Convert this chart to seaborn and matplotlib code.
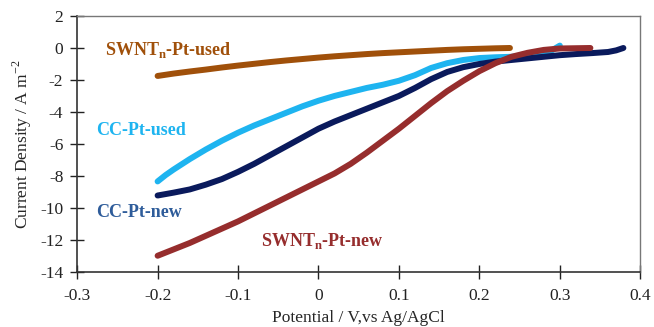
import numpy as np
import pandas as pd
import seaborn as sns
import matplotlib.pyplot as plt

# Polarisation curves
SWNT_USED_V = [-0.20, -0.18, -0.16, -0.14, -0.12, -0.10, -0.08, -0.06, -0.04, -0.02,
               0.00, 0.02, 0.04, 0.06, 0.08, 0.10, 0.12, 0.14, 0.16, 0.18, 0.20, 0.22, 0.238]
SWNT_USED_J = [-1.75, -1.60, -1.47, -1.35, -1.22, -1.10, -0.99, -0.88, -0.78, -0.69,
               -0.60, -0.52, -0.45, -0.38, -0.32, -0.27, -0.22, -0.17, -0.12, -0.08, -0.05, -0.02, 0.00]

CC_USED_V = [-0.20, -0.19, -0.18, -0.16, -0.14, -0.12, -0.10, -0.08, -0.06, -0.04, -0.02,
             0.00, 0.02, 0.04, 0.06, 0.08, 0.10, 0.12, 0.14, 0.16, 0.18, 0.20, 0.22, 0.24,
             0.26, 0.28, 0.29, 0.30]
CC_USED_J = [-8.35, -7.95, -7.60, -6.95, -6.35, -5.80, -5.30, -4.85, -4.45, -4.05, -3.65,
             -3.30, -3.00, -2.75, -2.50, -2.30, -2.05, -1.70, -1.25, -0.95, -0.75, -0.63, -0.58, -0.55,
             -0.45, -0.30, -0.15, 0.15]

CC_NEW_V = [-0.20, -0.18, -0.16, -0.14, -0.12, -0.10, -0.08, -0.06, -0.04, -0.02,
            0.00, 0.02, 0.04, 0.06, 0.08, 0.10, 0.12, 0.14, 0.16, 0.18, 0.20, 0.22, 0.24,
            0.26, 0.28, 0.30, 0.32, 0.34, 0.36, 0.37, 0.379]
CC_NEW_J = [-9.23, -9.05, -8.85, -8.55, -8.20, -7.75, -7.25, -6.70, -6.15, -5.60,
            -5.05, -4.60, -4.20, -3.80, -3.40, -3.00, -2.50, -1.95, -1.50, -1.20, -1.00, -0.85, -0.75,
            -0.65, -0.55, -0.45, -0.38, -0.32, -0.25, -0.15, 0.00]

SWNT_NEW_V = [-0.20, -0.18, -0.16, -0.14, -0.12, -0.10, -0.08, -0.06, -0.04, -0.02,
              0.00, 0.02, 0.04, 0.06, 0.08, 0.10, 0.12, 0.14, 0.16, 0.18, 0.20, 0.22, 0.24,
              0.26, 0.28, 0.30, 0.338]
SWNT_NEW_J = [-13.0, -12.6, -12.2, -11.75, -11.3, -10.85, -10.35, -9.85, -9.35, -8.85,
              -8.35, -7.85, -7.25, -6.55, -5.80, -5.05, -4.25, -3.45, -2.70, -2.05, -1.45, -0.95, -0.55,
              -0.30, -0.12, -0.03, 0.00]

NAMES = ['SWNTn-Pt-used', 'CC-Pt-used', 'CC-Pt-new', 'SWNTn-Pt-new']
COLORS = ['#A0500A', '#1EB4F0', '#0A1A5C', '#962D2D']

df = pd.concat([
    pd.DataFrame({'V': v, 'J': j, 'sample': n})
    for (n, v, j) in zip(
        NAMES,
        (SWNT_USED_V, CC_USED_V, CC_NEW_V, SWNT_NEW_V),
        (SWNT_USED_J, CC_USED_J, CC_NEW_J, SWNT_NEW_J),
    )
], ignore_index=True)

sns.set_style('white')
plt.rcParams['font.family'] = ['Liberation Serif', 'DejaVu Serif']
plt.rcParams['axes.unicode_minus'] = False
plt.rcParams['mathtext.fontset'] = 'custom'
plt.rcParams['mathtext.rm'] = 'Liberation Serif'
plt.rcParams['mathtext.bf'] = 'Liberation Serif:bold'

(fig, ax) = plt.subplots(figsize=(6.54, 3.27), dpi=100)
fig.subplots_adjust(left=0.118, right=0.979, bottom=0.169, top=0.951)

sns.lineplot(
    data=df, x='V', y='J', hue='sample', palette=dict(zip(NAMES, COLORS)),
    sort=False, estimator=None, linewidth=4.3, legend=False, ax=ax,
    solid_capstyle='round', solid_joinstyle='round'
)

ax.set_xlim(-0.3, 0.4)
ax.set_ylim(-14, 2)
ax.set_xticks(np.arange(-0.3, 0.41, 0.1))
ax.set_xticklabels(['-0.3', '-0.2', '-0.1', '0', '0.1', '0.2', '0.3', '0.4'])
ax.set_yticks(range(-14, 3, 2))
ax.tick_params(direction='inout', length=10, width=1, labelsize=12.5,
               colors='#222222', bottom=True, left=True)
ax.tick_params(axis='x', pad=7)
ax.tick_params(axis='y', pad=5)
for s in ('left', 'bottom'):
    ax.spines[s].set_color('#333333')
    ax.spines[s].set_linewidth(1.2)
for s in ('top', 'right'):
    ax.spines[s].set_color('#777777')
    ax.spines[s].set_linewidth(1.0)

ax.set_xlabel('Potential / V,vs Ag/AgCl', fontsize=12.5, labelpad=4)
ax.set_ylabel('Current Density / A m$^{-2}$', fontsize=12.5, labelpad=4)

lbl = dict(fontsize=13, fontweight='bold', va='center', ha='left')
ax.text(-0.266, -0.1, r'SWNT$_{\mathbf{n}}$-Pt-used', color='#A0500A', **lbl)
ax.text(-0.277, -5.15, 'CC-Pt-used', color='#1EB4F0', **lbl)
ax.text(-0.277, -10.3, 'CC-Pt-new', color='#2E5C9A', **lbl)
ax.text(-0.071, -12.05, r'SWNT$_{\mathbf{n}}$-Pt-new', color='#962D2D', **lbl)

plt.savefig('out.png', dpi=100)
